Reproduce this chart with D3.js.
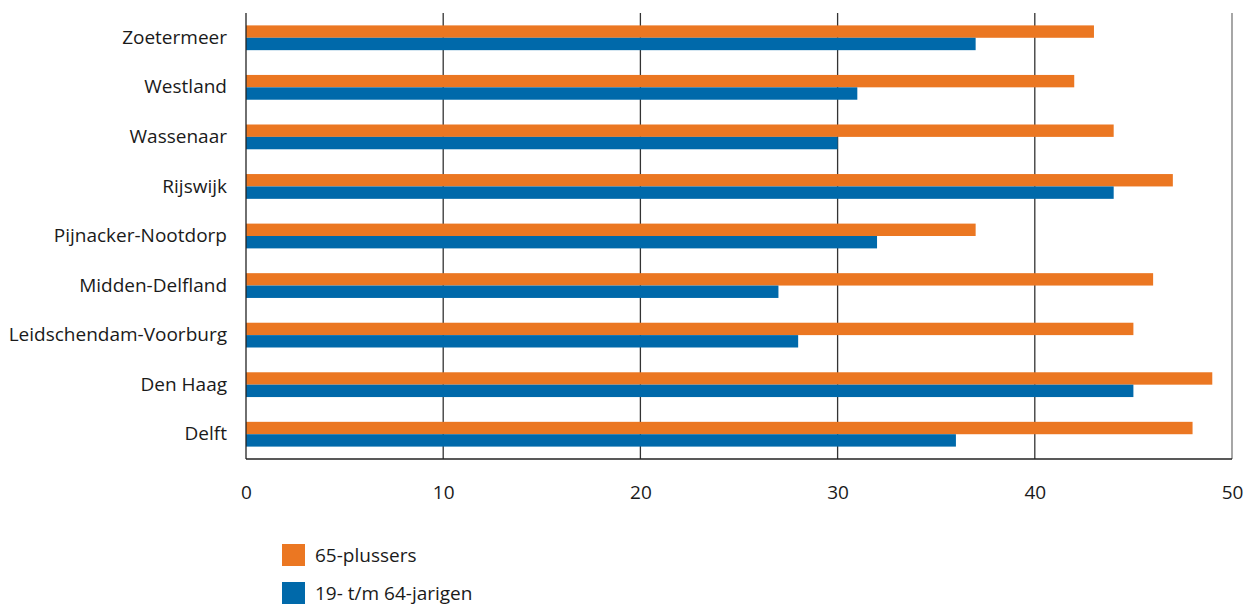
<!DOCTYPE html>
<html>
<head>
<meta charset="utf-8">
<script src="https://cdn.jsdelivr.net/npm/d3@7"></script>
<style>
  html, body { margin: 0; padding: 0; background: #fff; }
  svg text { font-family: "Open Sans", "Noto Sans", sans-serif; fill: #1a1a1a; }
</style>
</head>
<body>
<svg id="chart" width="1246" height="606"></svg>
<script>
// Gemeenten (top to bottom as drawn)
const categories = ["Zoetermeer", "Westland", "Wassenaar", "Rijswijk", "Pijnacker-Nootdorp",
                    "Midden-Delfland", "Leidschendam-Voorburg", "Den Haag", "Delft"];
const seriesNames = ["65-plussers", "19- t/m 64-jarigen"];
const plus65 = [43, 42, 44, 47, 37, 46, 45, 49, 48];
const adults = [37, 31, 30, 44, 32, 27, 28, 45, 36];
const xTicks = [0, 10, 20, 30, 40, 50];
const colors = ["#EB7722", "#0069AA"];

const svg = d3.select("#chart");
const plotLeft = 246, plotRight = 1232, plotTop = 13, plotBottom = 459;
const fontSize = 19;

const x = d3.scaleLinear().domain([0, 50]).range([plotLeft, plotRight]);
const y = d3.scaleBand().domain(categories).range([plotTop, plotBottom]).paddingInner(0.5).paddingOuter(0.25);
const sub = d3.scaleBand().domain(seriesNames).range([0, y.bandwidth()]);

// vertical gridlines
svg.append("g").selectAll("line").data(xTicks.slice(1)).join("line")
  .attr("x1", d => x(d)).attr("x2", d => x(d))
  .attr("y1", plotTop).attr("y2", plotBottom)
  .attr("stroke", d => d === 50 ? "#777" : "#333").attr("stroke-width", 1.3);

// bars
const rows = categories.map((c, i) => ({ c, vals: [plus65[i], adults[i]] }));
const g = svg.append("g").selectAll("g").data(rows).join("g")
  .attr("transform", d => `translate(0,${y(d.c)})`);
g.selectAll("rect").data(d => d.vals.map((v, j) => ({ v, s: seriesNames[j], j }))).join("rect")
  .attr("x", x(0)).attr("y", d => sub(d.s))
  .attr("width", d => x(d.v) - x(0)).attr("height", sub.bandwidth())
  .attr("fill", d => colors[d.j]);

// axis lines
svg.append("line").attr("x1", plotLeft).attr("x2", plotLeft).attr("y1", plotTop).attr("y2", plotBottom)
  .attr("stroke", "#222").attr("stroke-width", 1.3);
svg.append("line").attr("x1", plotLeft).attr("x2", plotRight).attr("y1", plotBottom).attr("y2", plotBottom)
  .attr("stroke", "#222").attr("stroke-width", 1.3);

// x tick labels
const xAxis = d3.axisBottom(x).tickValues(xTicks).tickSize(0).tickPadding(0);
const xg = svg.append("g").attr("transform", `translate(0,${plotBottom + 40})`).call(xAxis);
xg.select(".domain").remove();
xg.selectAll("text").attr("font-size", fontSize).attr("dy", 0).style("font-family", null);

// category labels
const yAxis = d3.axisLeft(y).tickSize(0).tickPadding(19);
const yg = svg.append("g").attr("transform", `translate(${plotLeft},0)`).call(yAxis);
yg.select(".domain").remove();
yg.selectAll("text").attr("font-size", fontSize).style("font-family", null);

// legend
const lg = svg.append("g").selectAll("g").data(seriesNames).join("g")
  .attr("transform", (d, i) => `translate(282,${544 + i * 38})`);
lg.append("rect").attr("width", 23).attr("height", 22).attr("fill", (d, i) => colors[i]);
lg.append("text").attr("x", 33).attr("y", 11).attr("dy", "0.35em")
  .attr("font-size", fontSize).text(d => d);
</script>
</body>
</html>
